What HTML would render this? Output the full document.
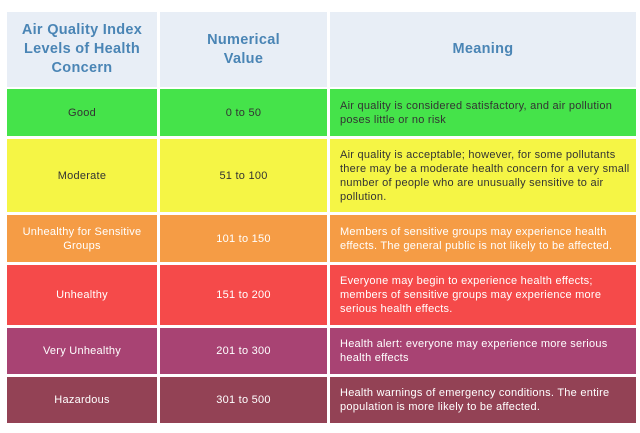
<!DOCTYPE html>
<html><head><style>
body{margin:0;width:640px;height:433px;background:#fff;font-family:"Liberation Sans",sans-serif;position:relative;overflow:hidden}
.c{position:absolute;box-sizing:border-box;display:flex;align-items:center;font-size:11px;letter-spacing:0.25px;line-height:14px}
.m{justify-content:center;text-align:center}
.l{padding-left:10px;white-space:nowrap}
.h{background:#e8eef6;color:#4a85b5;font-weight:bold;font-size:14.5px;letter-spacing:0.3px;line-height:19px}
.d{color:#333}.w{color:#fff}
</style></head><body>
<div class="c m h" style="left:7px;top:12px;width:150px;height:75px">Air Quality Index<br>Levels of Health<br>Concern</div>
<div class="c m h" style="left:160px;top:12px;width:167px;height:75px">Numerical<br>Value</div>
<div class="c m h" style="left:330px;top:12px;width:306px;height:75px">Meaning</div>

<div class="c m d" style="left:7px;top:89px;width:150px;height:47px;background:#45e34a">Good</div>
<div class="c m d" style="left:160px;top:89px;width:167px;height:47px;background:#45e34a">0 to 50</div>
<div class="c l d" style="left:330px;top:89px;width:306px;height:47px;background:#45e34a">Air quality is considered satisfactory, and air pollution<br>poses little or no risk</div>

<div class="c m d" style="left:7px;top:139px;width:150px;height:73px;background:#f5f545">Moderate</div>
<div class="c m d" style="left:160px;top:139px;width:167px;height:73px;background:#f5f545">51 to 100</div>
<div class="c l d" style="left:330px;top:139px;width:306px;height:73px;background:#f5f545">Air quality is acceptable; however, for some pollutants<br>there may be a moderate health concern for a very small<br>number of people who are unusually sensitive to air<br>pollution.</div>

<div class="c m w" style="left:7px;top:215px;width:150px;height:47px;background:#f59c45">Unhealthy for Sensitive<br>Groups</div>
<div class="c m w" style="left:160px;top:215px;width:167px;height:47px;background:#f59c45">101 to 150</div>
<div class="c l w" style="left:330px;top:215px;width:306px;height:47px;background:#f59c45">Members of sensitive groups may experience health<br>effects. The general public is not likely to be affected.</div>

<div class="c m w" style="left:7px;top:265px;width:150px;height:60px;background:#f54a4a">Unhealthy</div>
<div class="c m w" style="left:160px;top:265px;width:167px;height:60px;background:#f54a4a">151 to 200</div>
<div class="c l w" style="left:330px;top:265px;width:306px;height:60px;background:#f54a4a">Everyone may begin to experience health effects;<br>members of sensitive groups may experience more<br>serious health effects.</div>

<div class="c m w" style="left:7px;top:328px;width:150px;height:46px;background:#a84373">Very Unhealthy</div>
<div class="c m w" style="left:160px;top:328px;width:167px;height:46px;background:#a84373">201 to 300</div>
<div class="c l w" style="left:330px;top:328px;width:306px;height:46px;background:#a84373">Health alert: everyone may experience more serious<br>health effects</div>

<div class="c m w" style="left:7px;top:377px;width:150px;height:46px;background:#934255">Hazardous</div>
<div class="c m w" style="left:160px;top:377px;width:167px;height:46px;background:#934255">301 to 500</div>
<div class="c l w" style="left:330px;top:377px;width:306px;height:46px;background:#934255">Health warnings of emergency conditions. The entire<br>population is more likely to be affected.</div>
</body></html>
